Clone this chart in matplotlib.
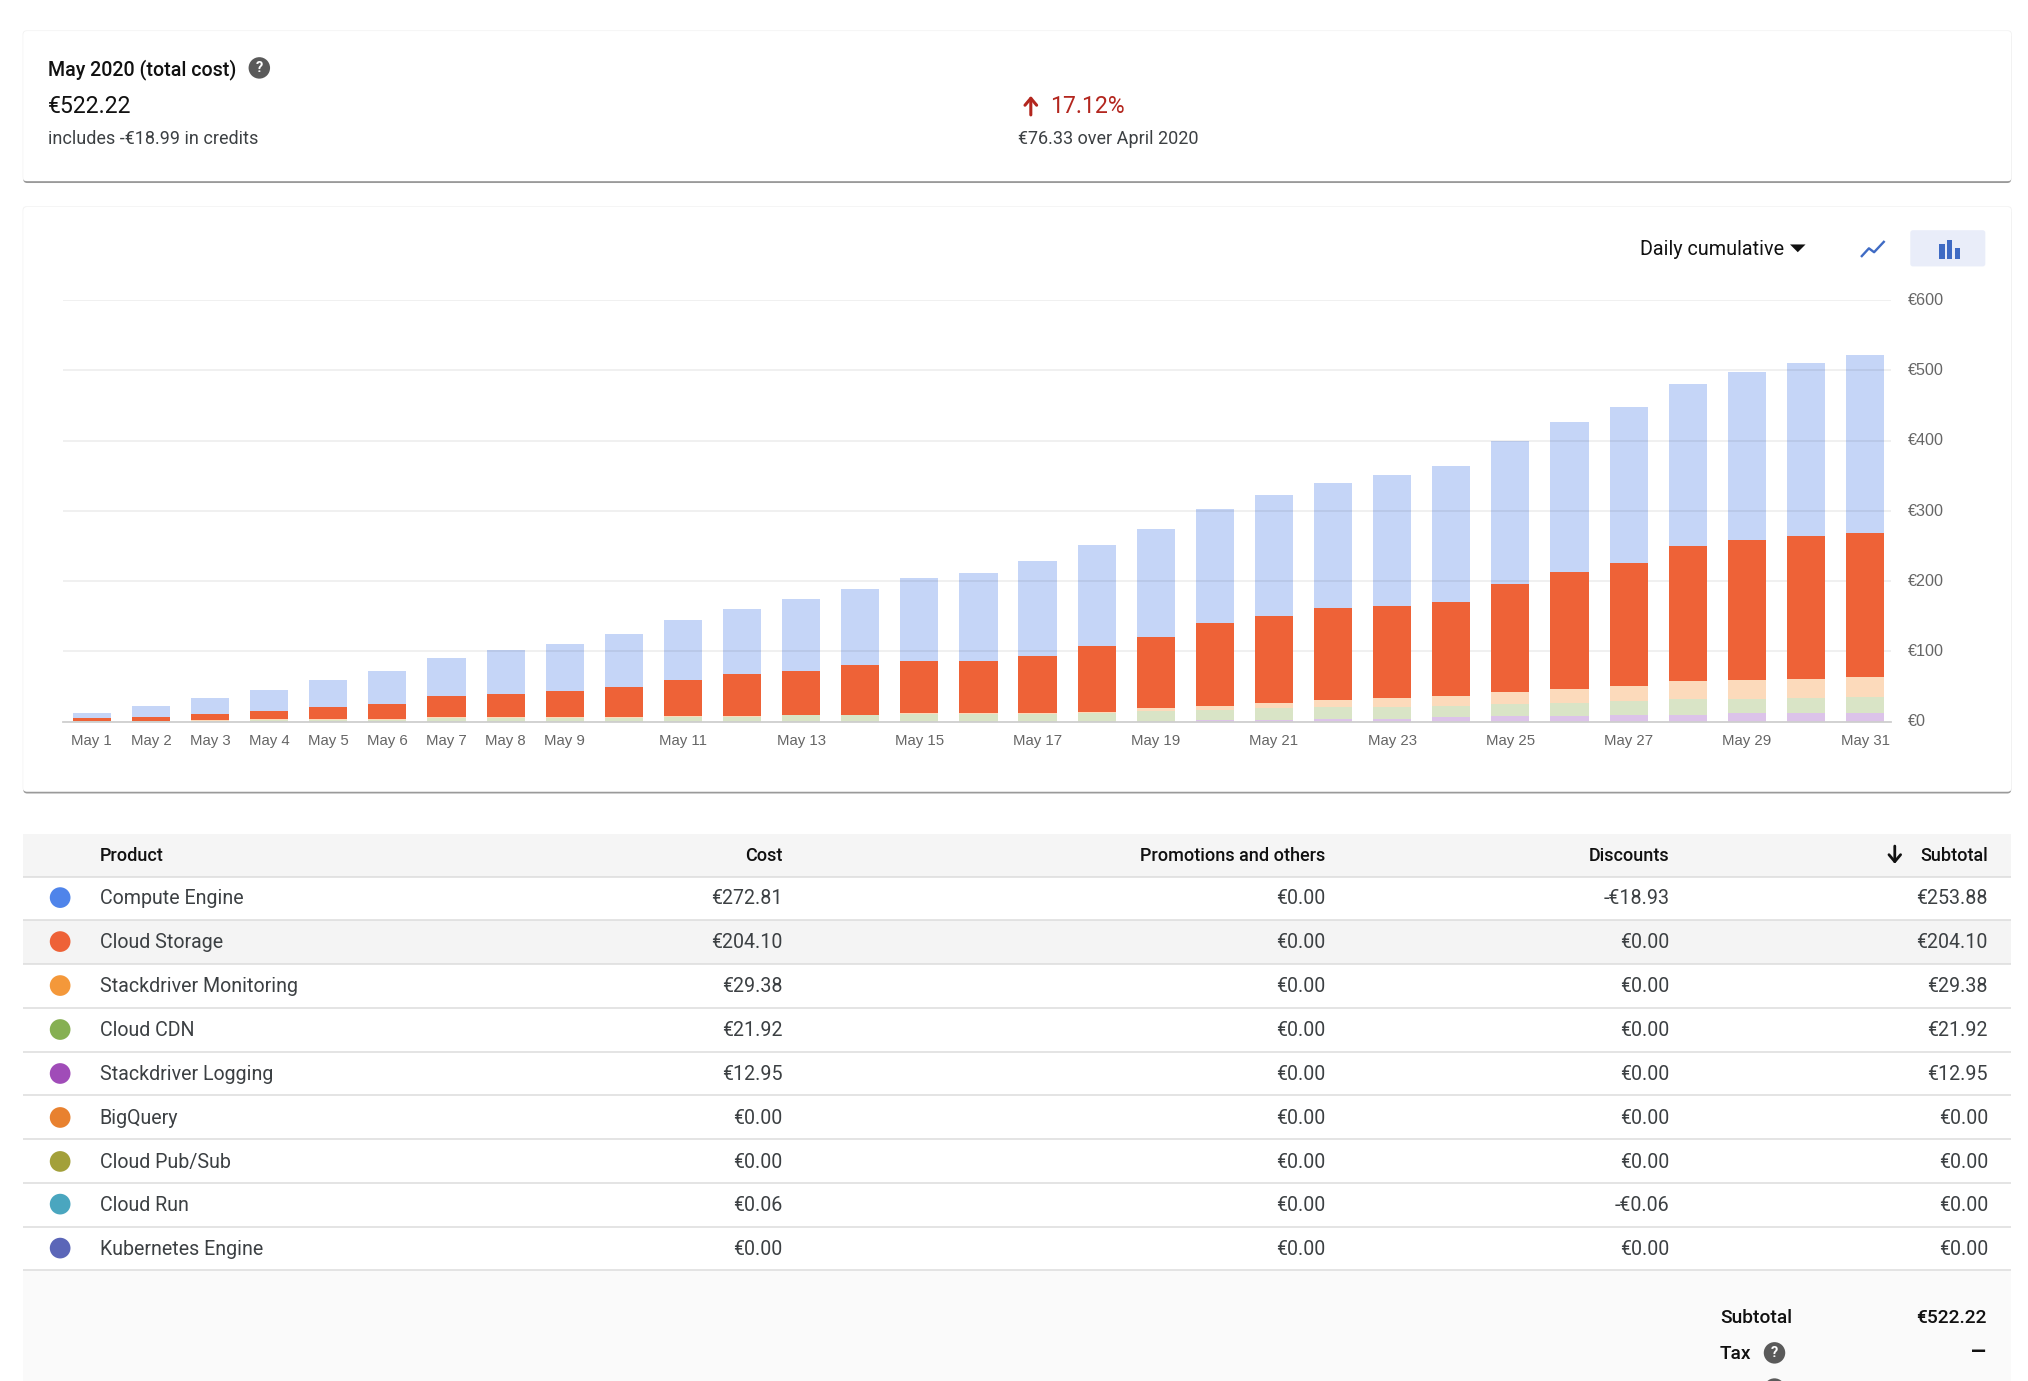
import matplotlib
matplotlib.use("Agg")
import matplotlib.pyplot as plt
from matplotlib.patches import FancyBboxPatch, Rectangle, Circle, Polygon
from matplotlib.ticker import FuncFormatter
from matplotlib.transforms import ScaledTranslation
import numpy as np

plt.rcParams['font.family'] = ['Roboto', 'DejaVu Sans']

# ---- data ----
days = [f"May {d}" for d in range(1, 32)]
shown_days = ["May 1","May 2","May 3","May 4","May 5","May 6","May 7","May 8","May 9",
              "May 11","May 13","May 15","May 17","May 19","May 21","May 23","May 25",
              "May 27","May 29","May 31"]
logging_cum = [0,0,0,0,0,0,0,0,0,0,0,0,0,0,0,0,0,0,0,1.9,1.9,3.8,4,6.6,8,8,10,10,12,12,12.95]
cdn_cum = [0.6,1,1.5,2.5,3,3,5,5.5,5.5,5.5,7,7,9,9,11,11,11,13,15.5,14.5,17.1,16.9,17,16.4,17.5,19,19,21.6,21,21.5,21.92]
monitoring_cum = [0.4,0.5,0.5,1.5,1,1,1,1.1,1.1,1.1,1.5,1,1,1,1.7,1.7,1.7,1.5,3.5,6.6,8,10.8,13,13,17,20,22,25.9,26,27.5,29.38]
storage_cum = [3.7,5.5,9,11,17,21,30,33.4,36.4,42.4,51.5,60,62,71,74.3,74.3,80.3,93.5,102,117,124,130,130.6,135,153.5,166,175,192,199,203,204.10]
compute_cum = [7.3,16,23,29.6,38,47,55,62,67,76,85,93,102,108,117,125,135,144,153,163,171,178.5,186.4,193,203,214,222,231.5,240,247,253.88]
y_ticks = [0,100,200,300,400,500,600]

products = ["Compute Engine","Cloud Storage","Stackdriver Monitoring","Cloud CDN","Stackdriver Logging",
            "BigQuery","Cloud Pub/Sub","Cloud Run","Kubernetes Engine"]
costs = ["€272.81","€204.10","€29.38","€21.92","€12.95","€0.00","€0.00","€0.06","€0.00"]
promos = ["€0.00"]*9
discounts = ["-€18.93","€0.00","€0.00","€0.00","€0.00","€0.00","€0.00","-€0.06","€0.00"]
subtotals = ["€253.88","€204.10","€29.38","€21.92","€12.95","€0.00","€0.00","€0.00","€0.00"]
dots = ["#4f84ea","#ee6237","#f4983a","#86b052","#a04cb8","#e8812f","#a3a03a","#4aa6bf","#5b66b8"]
row_y = [694,728,762,796,830,864,898,931,965]
row_lines = [678,711.5,745.5,779.5,813,847,881,915,949,982]

W, H = 2028, 1381
S = W/1568
fig = plt.figure(figsize=(W/100, H/100), dpi=100, facecolor="white")
bg = fig.add_axes([0,0,1,1], zorder=0)
bg.set_xlim(0,1568); bg.set_ylim(H/S,0); bg.axis("off")

BODY = 14.1; DARK = "#3c4043"; BLACK = "#111111"

def card(y0,y1):
    bg.add_patch(FancyBboxPatch((18,y0+1.5),1537,y1-y0,boxstyle="round,pad=0,rounding_size=3",fc="#9a9a9a",ec="none",zorder=1))
    bg.add_patch(FancyBboxPatch((17.5,y0-0.5),1538,y1-y0+0.5,boxstyle="round,pad=0,rounding_size=3",fc="#f1f1f1",ec="none",zorder=1.5))
    bg.add_patch(FancyBboxPatch((18,y0),1537,y1-y0,boxstyle="round,pad=0,rounding_size=3",fc="white",ec="none",zorder=2))

def t(x,y,s,size=BODY,color=DARK,ha="left",weight="normal"):
    bg.text(x,y+0.8,s,fontsize=size,color=color,ha=ha,va="center",weight=weight,zorder=6)

def help_icon(x,y,r=8.3,mark=True):
    bg.add_patch(Circle((x,y),r,fc="#5a5a5a",ec="none",zorder=6))
    if mark:
        bg.text(x,y+0.3,"?",color="white",fontsize=10.5,weight="bold",ha="center",va="center",zorder=7)

card(24,140); card(160,612)

# summary card
t(37,53,"May 2020 (total cost)",14.1,BLACK,weight="medium"); help_icon(200.5,52.5)
t(37,81.5,"€522.22",16.6,BLACK)
t(37,107,"includes -€18.99 in credits",13,DARK)
t(812,81.5,"17.12%",16.6,"#b3261e")
bg.annotate("",xy=(797,72),xytext=(797,91),arrowprops=dict(arrowstyle="->,head_width=0.42,head_length=0.5",color="#b3261e",lw=2.2),zorder=6)
t(787,107,"€76.33 over April 2020",13,DARK)

# chart controls
t(1268,192,"Daily cumulative",14.2,BLACK)
bg.add_patch(Polygon([(1384,189),(1396,189),(1390,195)],fc="#111111",ec="none",zorder=6))
bg.plot([1439.5,1445,1449,1456.5],[198,192,195,187],color="#3f6bc4",lw=1.7,zorder=6)
bg.add_patch(FancyBboxPatch((1477,178),58,28,boxstyle="round,pad=0,rounding_size=2",fc="#e9edf9",ec="none",zorder=5))
for x,h in zip([1499.5,1505.5,1511.5],[12,15,8.5]):
    bg.add_patch(Rectangle((x,200.5-h),4,h,fc="#3f6bc4",ec="none",zorder=6))

# table
bg.add_patch(Rectangle((18,645),1537,33,fc="#f5f5f5",ec="none",zorder=1))
bg.add_patch(Rectangle((18,711.5),1537,34,fc="#f4f4f4",ec="none",zorder=1))
bg.add_patch(Rectangle((18,982),1537,90,fc="#fafafa",ec="none",zorder=1))
bg.hlines(row_lines,18,1555,color="#dcdcdc",lw=1.1,zorder=2)
HD = 12.95
t(77,661,"Product",HD,BLACK,weight="medium")
t(605,661,"Cost",HD,BLACK,ha="right",weight="medium")
t(1025,661,"Promotions and others",HD,BLACK,ha="right",weight="medium")
t(1291,661,"Discounts",HD,BLACK,ha="right",weight="medium")
t(1537,661,"Subtotal",HD,BLACK,ha="right",weight="medium")
bg.annotate("",xy=(1465,670),xytext=(1465,652),arrowprops=dict(arrowstyle="->,head_width=0.42,head_length=0.5",color="#111111",lw=2),zorder=6)
for y,n,c,p,d,s,col in zip(row_y,products,costs,promos,discounts,subtotals,dots):
    bg.add_patch(Circle((46.5,y),8,fc=col,ec="none",zorder=5))
    t(77,y,n); t(605,y,c,ha="right"); t(1025,y,p,ha="right"); t(1291,y,d,ha="right"); t(1537,y,s,ha="right")
t(1386,1018,"Subtotal",13.8,BLACK,ha="right",weight="medium")
t(1536,1018,"€522.22",13.8,BLACK,ha="right",weight="medium")
t(1354,1046,"Tax",13.8,BLACK,ha="right",weight="medium")
help_icon(1372,1046)
t(1536,1045,"–",19,BLACK,ha="right",weight="medium")
help_icon(1372,1074,mark=False)

# chart
ax = fig.add_axes([49*S/W, 1-558*S/H, (1462-49)*S/W, (558-232)*S/H], zorder=3)
ax.patch.set_alpha(0)
x = np.arange(31)
ax.set_xlim((49-71)/45.7,(1462-71)/45.7); ax.set_ylim(0,600)
bw = 29.5/45.7
bottom = np.zeros(31)
for vals,col,z in [(logging_cum,"#dcc3e9",1),(cdn_cum,"#d9e4c6",1),(monitoring_cum,"#fcdabb",1),
                   (storage_cum,"#ee6237",3),(compute_cum,"#c5d5f7",1)]:
    ax.bar(x,vals,bw,bottom=bottom,color=col,zorder=z,linewidth=0)
    bottom = bottom+np.array(vals)
ax.set_yticks(y_ticks)
ax.yaxis.set_major_formatter(FuncFormatter(lambda v,_:f"€{int(v)}"))
ax.yaxis.tick_right()
ax.set_xticks([days.index(d) for d in shown_days]); ax.set_xticklabels(shown_days)
ax.grid(axis="y",color="#000000",alpha=0.065,lw=1.3,zorder=2)
ax.set_axisbelow(False)
for s_ in ["top","left","right"]:
    ax.spines[s_].set_visible(False)
ax.spines["bottom"].set_color("#cfcfcf"); ax.spines["bottom"].set_linewidth(1.3); ax.spines["bottom"].set_zorder(4)
ax.tick_params(axis="both",length=0,colors="#666666",labelsize=10.8)
ax.tick_params(axis="y",pad=12,labelsize=11.6)
ax.tick_params(axis="x",pad=9)
up = ScaledTranslation(0,1.2/100,fig.dpi_scale_trans)
for l in ax.get_xticklabels()+ax.get_yticklabels():
    l.set_family(["Liberation Sans","DejaVu Sans"])
for l in ax.get_yticklabels():
    l.set_transform(l.get_transform()+up)

fig.savefig("out.png",dpi=100)
